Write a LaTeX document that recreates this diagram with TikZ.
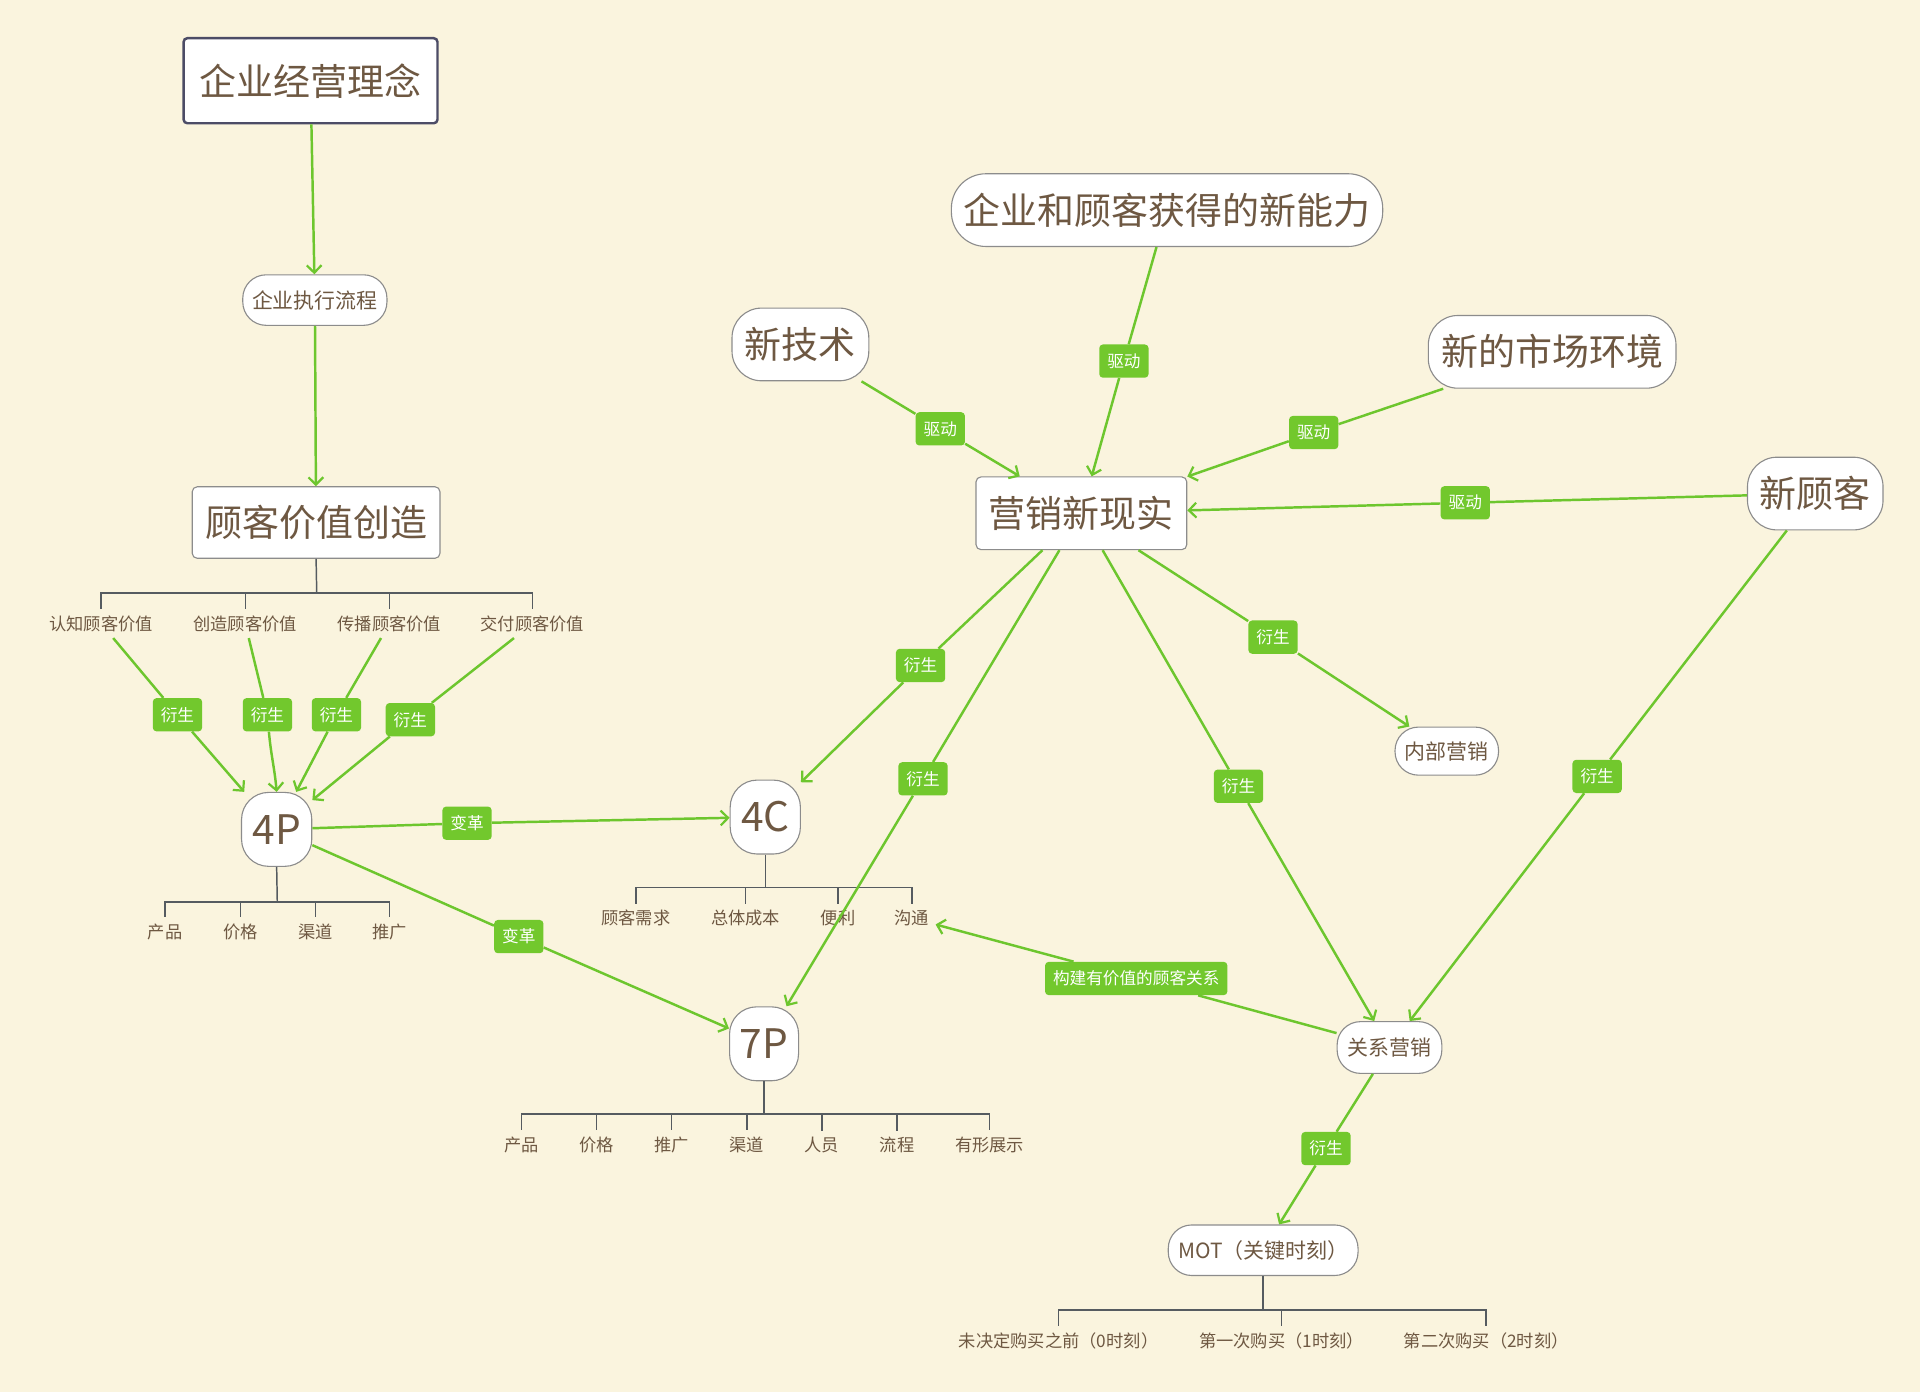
\documentclass[tikz,border=0pt]{standalone}
\usepackage{fontspec}
\newfontfamily\cjk{Noto Sans CJK SC}
\usetikzlibrary{arrows.meta}
\definecolor{bgc}{HTML}{FAF4DE}
\definecolor{txt}{HTML}{6E5842}
\definecolor{grn}{HTML}{6DC62E}
\definecolor{lab}{HTML}{72C82D}
\definecolor{brn}{HTML}{555B60}
\definecolor{bdr}{HTML}{8C8C8C}
\newcommand{\fs}[1]{\cjk\fontsize{#1}{#1}\selectfont}
\tikzset{
  base/.style={fill=white, text=txt, inner sep=0pt, align=center},
  bigbox/.style={base, draw=black!75!blue!40!gray, line width=2pt, rounded corners=3pt, font=\fs{30}},
  box/.style={base, draw=bdr, line width=0.9pt, rounded corners=4pt, font=\fs{30}},
  bigpill/.style={base, draw=bdr, line width=0.9pt, rounded corners=24pt, font=\fs{30}, minimum height=59pt},
  pill/.style={base, draw=bdr, line width=0.9pt, rounded corners=19pt, font=\fs{17}},
  pnode/.style={base, draw=bdr, line width=0.9pt, rounded corners=22pt, font=\fs{33}, minimum width=57pt, minimum height=60pt},
  leaf/.style={text=txt, font=\fs{14}, inner sep=5pt},
  tag/.style={fill=lab, text=white, font=\fs{13.5}, rounded corners=3pt, inner sep=0pt, minimum width=40pt, minimum height=27pt},
  link/.style={draw=grn, line width=2pt},
  arr/.style={link, -{Straight Barb[length=6pt,width=12pt,line width=1.8pt]}},
  branch/.style={draw=brn, line width=1.2pt}
}
\begin{document}
\begin{tikzpicture}[x=1pt,y=-1pt]
\fill[bgc] (0,0) rectangle (1558,1129.55);
\useasboundingbox (0,0) rectangle (1558,1129.55);

% main nodes
\node[bigbox, minimum width=206pt, minimum height=69pt] (idea) at (252,65.5) {企业经营理念};
\node[pill, minimum width=117pt, minimum height=41pt] (flow) at (255.5,243.5) {企业执行流程};
\node[box, minimum width=201pt, minimum height=58pt] (cvc) at (256.5,424) {顾客价值创造};

\node[leaf] (t1) at (82,506) {认知顾客价值};
\node[leaf] (t2) at (199,506) {创造顾客价值};
\node[leaf] (t3) at (316,506) {传播顾客价值};
\node[leaf] (t4) at (432,506) {交付顾客价值};

\node[pnode] (fp) at (224.5,673) {4P};
\node[leaf] (p1) at (134,756) {产品};
\node[leaf] (p2) at (195,756) {价格};
\node[leaf] (p3) at (256,756) {渠道};
\node[leaf] (p4) at (316,756) {推广};

\node[pnode] (fc) at (621,663) {4C};
\node[leaf] (c1) at (516,745) {顾客需求};
\node[leaf] (c2) at (605,745) {总体成本};
\node[leaf] (c3) at (680,745) {便利};
\node[leaf] (c4) at (740,745) {沟通};

\node[pnode, minimum width=56pt] (sp) at (620,847) {7P};
\node[leaf] (s1) at (423,929) {产品};
\node[leaf] (s2) at (484,929) {价格};
\node[leaf] (s3) at (545,929) {推广};
\node[leaf] (s4) at (606,929) {渠道};
\node[leaf] (s5) at (667,929) {人员};
\node[leaf] (s6) at (728,929) {流程};
\node[leaf] (s7) at (803,929) {有形展示};

\node[box, minimum width=171pt, minimum height=59pt] (real) at (877.5,416.5) {营销新现实};
\node[bigpill, minimum width=350pt, rounded corners=28pt] (abil) at (947,170.5) {企业和顾客获得的新能力};
\node[bigpill, minimum width=111pt] (tech) at (649.5,279.5) {新技术};
\node[bigpill, minimum width=201pt] (mkt) at (1259.5,285.5) {新的市场环境};
\node[bigpill, minimum width=110pt] (newc) at (1473,400.5) {新顾客};
\node[pill, minimum width=84pt, minimum height=39pt] (inner) at (1174,609.5) {内部营销};
\node[pill, minimum width=85pt, minimum height=42pt] (rel) at (1127.5,850) {关系营销};
\node[pill, minimum width=154pt, minimum height=41pt] (mot) at (1025,1014.5) {MOT（关键时刻）};
\node[leaf] (m1) at (859,1088) {未决定购买之前（0时刻）};
\node[leaf] (m2) at (1040,1088) {第一次购买（1时刻）};
\node[leaf] (m3) at (1206,1088) {第二次购买（2时刻）};

% branch trees
\coordinate (cvj) at (257,481);
\draw[branch] (cvc.south) -- (cvj);
\foreach \t in {t1,t2,t3,t4} \draw[branch] (cvj) -| (\t.north);
\coordinate (fpj) at (225,732);
\draw[branch] (fp.south) -- (fpj);
\foreach \t in {p1,p2,p3,p4} \draw[branch] (fpj) -| (\t.north);
\coordinate (fcj) at (621,720);
\draw[branch] (fc.south) -- (fcj);
\foreach \t in {c1,c2,c3,c4} \draw[branch] (fcj) -| (\t.north);
\coordinate (spj) at (620,904);
\draw[branch] (sp.south) -- (spj);
\foreach \t in {s1,s2,s3,s4,s5,s6,s7} \draw[branch] (spj) -| (\t.north);
\coordinate (motj) at (1025,1063);
\draw[branch] (mot.south) -- (motj);
\foreach \t in {m1,m2,m3} \draw[branch] (motj) -| (\t.north);

% tags
\node[tag] (d1) at (144,580) {衍生};
\node[tag] (d2) at (217,580) {衍生};
\node[tag] (d3) at (273,580) {衍生};
\node[tag] (d4) at (333,584) {衍生};
\node[tag] (b1) at (379,668) {变革};
\node[tag] (b2) at (421,760) {变革};
\node[tag] (q1) at (912,293) {驱动};
\node[tag] (q2) at (763,348) {驱动};
\node[tag] (q3) at (1066,351) {驱动};
\node[tag] (q4) at (1189,408) {驱动};
\node[tag] (e1) at (747,540) {衍生};
\node[tag] (e2) at (749,632) {衍生};
\node[tag] (e3) at (1005,638) {衍生};
\node[tag] (e4) at (1033,517) {衍生};
\node[tag] (e5) at (1296,630) {衍生};
\node[tag] (e6) at (1076,932) {衍生};
\node[tag, minimum width=148pt] (g) at (922,794) {构建有价值的顾客关系};

% connectors
\draw[arr] (idea) -- (flow);
\draw[arr] (flow) -- (cvc);

\draw[link] (t1) -- (d1); \draw[arr] (d1) -- (fp);
\draw[link] (t2) -- (d2); \draw[arr] (d2) to[out=-85,in=95] (fp.north);
\draw[link] (t3) -- (d3); \draw[arr] (d3) -- (fp);
\draw[link] (t4) -- (d4); \draw[arr] (d4) -- (fp);

\draw[link] (fp) -- (b1); \draw[arr] (b1) -- (fc);
\draw[link] (fp) -- (b2); \draw[arr] (b2) -- (sp);

\draw[link] (abil) -- (q1); \draw[arr] (q1) -- (real);
\draw[link] (tech) -- (q2); \draw[arr] (q2) -- (real);
\draw[link] (mkt) -- (q3); \draw[arr] (q3) -- (real);
\draw[link] (newc) -- (q4); \draw[arr] (q4) -- (real);

\draw[link] (real) -- (e1); \draw[arr] (e1) -- (fc);
\draw[link] (real) -- (e2); \draw[arr] (e2) -- (sp);
\draw[link] (real) -- (e3); \draw[arr] (e3) -- (rel);
\draw[link] (real) -- (e4); \draw[arr] (e4) -- (inner);
\draw[link] (newc) -- (e5); \draw[arr] (e5) -- (rel);
\draw[link] (rel) -- (g); \draw[arr] (g) -- (c4);
\draw[link] (rel) -- (e6); \draw[arr] (e6) -- (mot);
\end{tikzpicture}
\end{document}
